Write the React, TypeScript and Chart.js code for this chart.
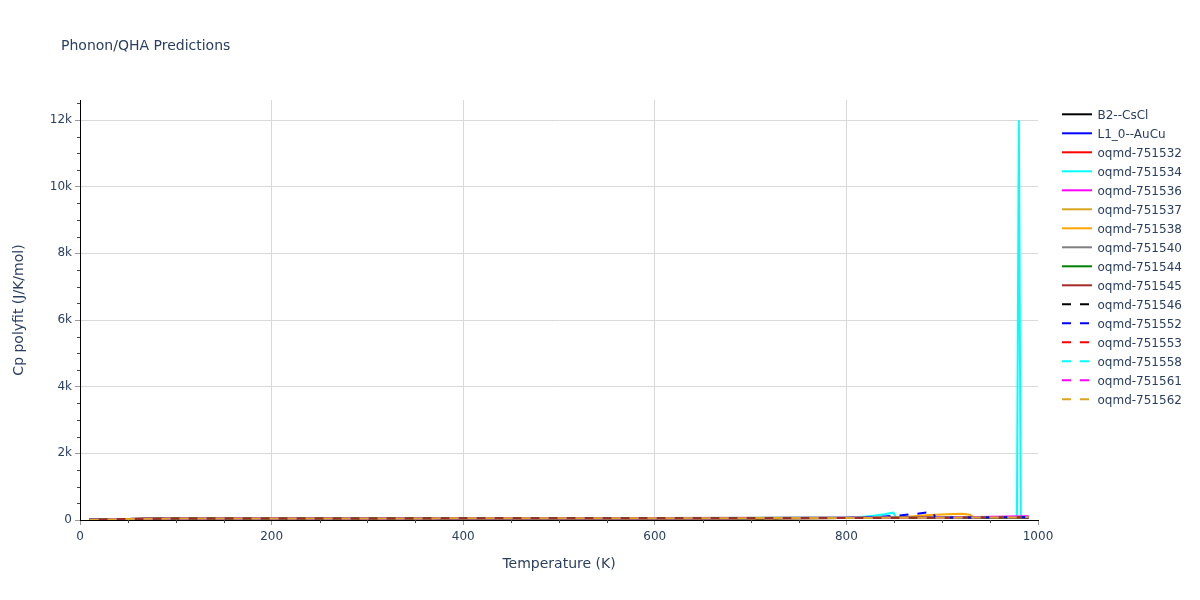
import React, { useEffect, useRef } from "react";
import { Chart, registerables } from "chart.js";

Chart.register(...registerables);

const FONT = "'DejaVu Sans', Verdana, sans-serif";
const TEXT = "#2a3f5f";
const GRID = "#d9d9d9";

// ---- data ----
const seriesNames = [
  "B2--CsCl", "L1_0--AuCu", "oqmd-751532", "oqmd-751534", "oqmd-751536",
  "oqmd-751537", "oqmd-751538", "oqmd-751540", "oqmd-751544", "oqmd-751545",
  "oqmd-751546", "oqmd-751552", "oqmd-751553", "oqmd-751558", "oqmd-751561",
  "oqmd-751562",
];
const seriesColors = [
  "#000000", "#0000ff", "#ff0000", "#00ffff", "#ff00ff",
  "#daa520", "#ffa500", "#808080", "#008000", "#a52a2a",
  "#000000", "#0000ff", "#ff0000", "#00ffff", "#ff00ff",
  "#daa520",
];
const seriesDashed = [
  false, false, false, false, false, false, false, false, false, false,
  true, true, true, true, true, true,
];

const tempsBase = [10, 25, 50, 100, 150, 200, 300, 400, 500, 600, 700, 800, 900, 990];
const cpB2 = [4, 14, 30, 42, 46, 47, 48, 49, 50, 52, 55, 60, 68, 78];
const cpL10 = [4, 15, 31, 43, 46, 47, 48, 49, 50, 52, 55, 59, 66, 75];
const cp532 = [5, 16, 32, 43, 46, 47, 48, 49, 51, 53, 56, 61, 70, 82];
const temps534 = [10, 25, 50, 100, 150, 200, 300, 400, 500, 600, 700, 800, 810, 820, 830, 840, 845, 849, 852, 900, 950, 976, 978, 980, 982, 984, 990];
const cp534 = [4, 15, 31, 43, 46, 47, 48, 49, 51, 53, 57, 75, 85, 105, 135, 175, 200, 220, 70, 75, 80, 82, 85, 11990, 85, 84, 86];
const cp536 = [5, 15, 31, 43, 46, 47, 48, 50, 52, 54, 58, 64, 75, 110];
const cp537 = [4, 14, 30, 42, 46, 47, 48, 49, 50, 52, 55, 60, 67, 77];
const temps538 = [10, 25, 50, 100, 150, 200, 300, 400, 500, 600, 700, 800, 850, 870, 887, 905, 920, 929, 933, 960, 990];
const cp538 = [4, 15, 31, 43, 46, 47, 48, 49, 51, 53, 56, 61, 80, 110, 150, 170, 185, 160, 75, 78, 82];
const cp540 = [4, 15, 31, 43, 46, 47, 49, 52, 56, 62, 68, 72, 76, 80];
const cp544 = [4, 15, 31, 43, 46, 47, 48, 49, 50, 52, 55, 59, 65, 74];
const cp545 = [4, 15, 31, 43, 46, 47, 48, 49, 51, 53, 56, 61, 69, 80];
const cp546 = [4, 15, 31, 43, 46, 47, 48, 49, 50, 52, 55, 60, 67, 77];
const temps552 = [10, 25, 50, 100, 150, 200, 300, 400, 500, 600, 700, 800, 830, 850, 870, 885, 890, 893, 940, 990];
const cp552 = [4, 15, 31, 43, 46, 47, 48, 49, 51, 53, 56, 61, 85, 125, 175, 230, 240, 75, 78, 82];
const cp553 = [4, 15, 31, 43, 46, 47, 48, 49, 50, 52, 56, 61, 70, 84];
const cp558 = [4, 15, 31, 43, 46, 47, 48, 49, 51, 53, 56, 62, 72, 88];
const cp561 = [4, 15, 31, 43, 46, 47, 48, 49, 51, 53, 57, 63, 74, 100];
const cp562 = [4, 15, 31, 43, 46, 47, 48, 49, 51, 53, 56, 61, 69, 80];

const seriesTemps = [
  tempsBase, tempsBase, tempsBase, temps534, tempsBase, tempsBase, temps538, tempsBase,
  tempsBase, tempsBase, tempsBase, temps552, tempsBase, tempsBase, tempsBase, tempsBase,
];
const seriesValues = [
  cpB2, cpL10, cp532, cp534, cp536, cp537, cp538, cp540,
  cp544, cp545, cp546, cp552, cp553, cp558, cp561, cp562,
];

const xMinor = 50;
const xMajor = 200;
const yStep = 100;
const yMinor = 500;
const yMajor = 2000;

const TRANSPARENT = "rgba(0,0,0,0)";

const minorTicks = {
  id: "minorTicks",
  afterDraw(chart: any) {
    const ctx = chart.ctx;
    const { left, bottom } = chart.chartArea;
    const xs = chart.scales.x;
    const ys = chart.scales.y;
    ctx.save();
    ctx.strokeStyle = "#444";
    ctx.lineWidth = 1;
    ctx.beginPath();
    xs.ticks.forEach((t: any) => {
      if (t.value % xMinor === 0 && t.value % xMajor !== 0) {
        const px = Math.round(xs.getPixelForValue(t.value)) + 0.5;
        ctx.moveTo(px, bottom);
        ctx.lineTo(px, bottom + 3);
      }
    });
    ys.ticks.forEach((t: any) => {
      if (t.value % yMinor === 0 && t.value % yMajor !== 0) {
        const py = Math.round(ys.getPixelForValue(t.value)) + 0.5;
        ctx.moveTo(left - 3, py);
        ctx.lineTo(left, py);
      }
    });
    ctx.stroke();
    ctx.restore();
  },
};

export default function App() {
  const canvasRef = useRef<HTMLCanvasElement | null>(null);

  useEffect(() => {
    if (!canvasRef.current) return;
    const n = seriesNames.length;
    const datasets = seriesNames.map((name, i) => ({
      label: name,
      data: seriesTemps[i].map((t, j) => ({ x: t, y: seriesValues[i][j] })),
      borderColor: seriesColors[i],
      backgroundColor: seriesColors[i],
      borderWidth: 2,
      borderDash: seriesDashed[i] ? [9, 9] : [],
      pointRadius: 0,
      tension: 0,
      fill: false,
      order: n - i,
    }));

    const chart = new Chart(canvasRef.current, {
      type: "line",
      data: { datasets },
      plugins: [minorTicks],
      options: {
        animation: false,
        responsive: false,
        devicePixelRatio: 1,
        events: [],
        layout: { padding: { left: 0, right: 162, top: 100, bottom: 0 } },
        plugins: {
          legend: { display: false },
          tooltip: { enabled: false },
          title: { display: false },
        },
        scales: {
          x: {
            type: "linear",
            min: 0,
            max: 1000,
            ticks: {
              stepSize: xMinor,
              autoSkip: false,
              maxRotation: 0,
              includeBounds: false,
              maxTicksLimit: 1000,
              color: TEXT,
              font: { family: FONT, size: 12 },
              padding: 5,
              callback: (v: any) => (v % xMajor === 0 ? String(v) : ""),
            },
            grid: {
              color: (c: any) =>
                c.tick && c.tick.value % xMajor === 0 && c.tick.value !== 0 && c.tick.value !== 1000
                  ? GRID
                  : TRANSPARENT,
              tickColor: (c: any) =>
                c.tick && c.tick.value % xMajor === 0 ? "#999999" : TRANSPARENT,
              tickLength: 5,
            },
            border: { color: "#000000", width: 1 },
            title: {
              display: true,
              text: "Temperature (K)",
              color: TEXT,
              font: { family: FONT, size: 14 },
              padding: { top: 0, bottom: 27 },
            },
            afterFit: (s: any) => {
              s.height = 80;
            },
          },
          y: {
            type: "linear",
            min: 0,
            max: 12600,
            ticks: {
              stepSize: yStep,
              autoSkip: false,
              includeBounds: false,
              maxTicksLimit: 1000,
              color: TEXT,
              font: { family: FONT, size: 12 },
              padding: 3,
              callback: (v: any) =>
                v % yMajor === 0 ? (v === 0 ? "0" : v / 1000 + "k") : "",
            },
            grid: {
              color: (c: any) =>
                c.tick && c.tick.value % yMajor === 0 && c.tick.value !== 0
                  ? GRID
                  : TRANSPARENT,
              tickColor: (c: any) =>
                c.tick && c.tick.value % yMajor === 0 ? "#999999" : TRANSPARENT,
              tickLength: 5,
            },
            border: { color: "#000000", width: 1 },
            title: {
              display: true,
              text: "Cp polyfit (J/K/mol)",
              color: TEXT,
              font: { family: FONT, size: 14 },
              padding: { top: 11, bottom: 0 },
            },
            afterFit: (s: any) => {
              s.width = 80;
            },
          },
        },
      } as any,
    });
    return () => chart.destroy();
  }, []);

  return (
    <div style={{ position: "fixed", left: 0, top: 0, width: 1200, height: 600, background: "#fff" }}>
      <canvas ref={canvasRef} width={1200} height={600} style={{ width: 1200, height: 600, display: "block" }} />
      <div
        style={{
          position: "absolute",
          left: 61,
          top: 37,
          fontFamily: FONT,
          fontSize: 14,
          color: TEXT,
          whiteSpace: "nowrap",
        }}
      >
        Phonon/QHA Predictions
      </div>
      <svg
        style={{ position: "absolute", left: 1055, top: 100 }}
        width={145}
        height={320}
      >
        {seriesNames.map((name, i) => (
          <g key={name}>
            <line
              x1={7}
              x2={37}
              y1={14.3 + i * 19}
              y2={14.3 + i * 19}
              stroke={seriesColors[i]}
              strokeWidth={2}
              strokeDasharray={seriesDashed[i] ? "9,9" : undefined}
            />
            <text
              x={42.5}
              y={19.3 + i * 19}
              fill={TEXT}
              style={{ fontFamily: FONT, fontSize: 12 }}
            >
              {name}
            </text>
          </g>
        ))}
      </svg>
    </div>
  );
}
